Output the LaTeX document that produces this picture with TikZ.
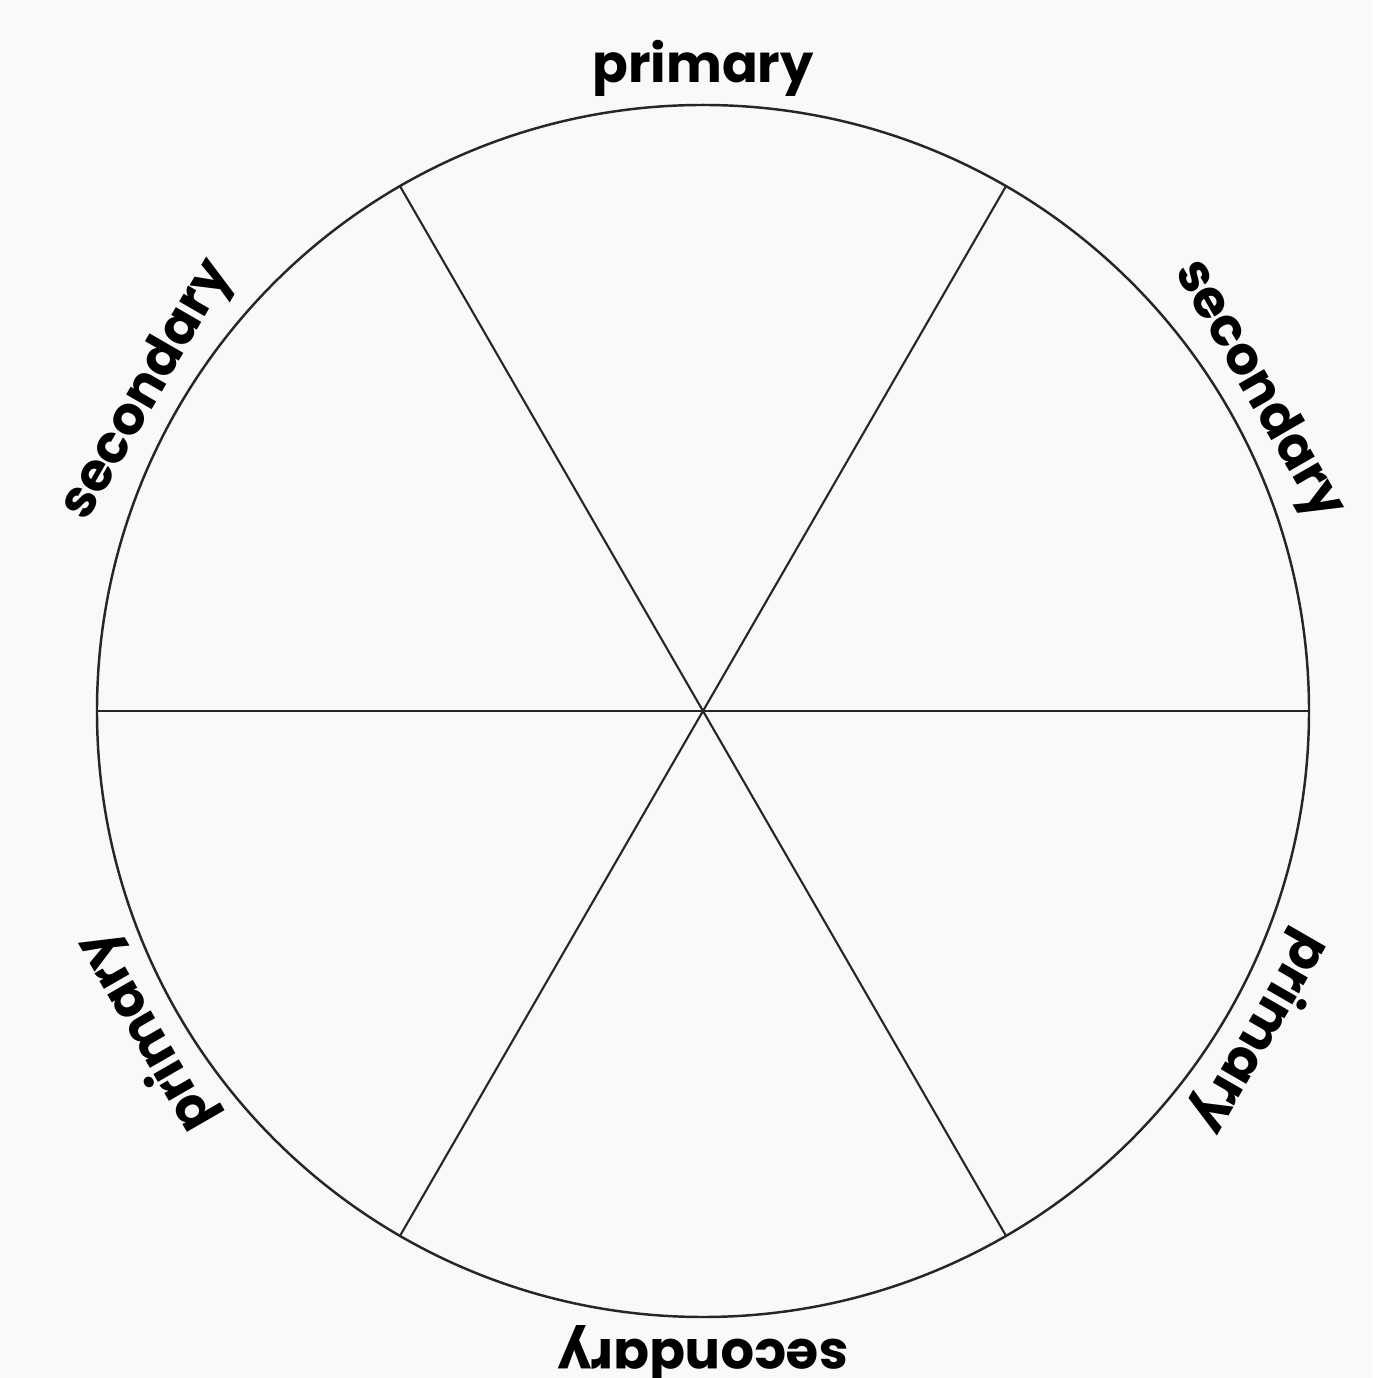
\documentclass[tikz,border=0pt]{standalone}
\usepackage{fontspec}
\setmainfont{Poppins}
\usepackage{tikz}
\usetikzlibrary{positioning,calc}

\definecolor{paper}{HTML}{F9F9F9}

\begin{document}
\begin{tikzpicture}[
    font=\fontsize{15}{17}\selectfont\bfseries,
    wheel/.style={
        draw=black!85,
        circle,
        line width=0.7pt,
        inner sep=0pt,
        outer sep=0pt,
        minimum size=12.12cm
    },
    spoke/.style={draw=black!85, line width=0.6pt},
    lbl/.style={anchor=base, inner sep=0pt}
]

% page and background
\fill[paper] (-7.03,-6.67) rectangle (6.69,7.11);
\useasboundingbox (-7.03,-6.67) rectangle (6.69,7.11);

% the wheel
\coordinate (c) at (0,0);
\node[wheel] (rim) at (c) {};

\draw[spoke] (c) -- (rim.0);
\draw[spoke] (c) -- (rim.60);
\draw[spoke] (c) -- (rim.120);
\draw[spoke] (c) -- (rim.180);
\draw[spoke] (c) -- (rim.240);
\draw[spoke] (c) -- (rim.300);

% labels round the rim
\node[lbl, rotate=0]    (pTop)    at (90:6.28)   {primary};
\node[lbl, rotate=-60]  (sRight)  at (30:6.28)   {secondary};
\node[lbl, rotate=-120] (pRight)  at (-30:6.28)  {primary};
\node[lbl, rotate=180]  (sBottom) at (-90:6.28)  {secondary};
\node[lbl, rotate=120]  (pLeft)   at (-150:6.28) {primary};
\node[lbl, rotate=60]   (sLeft)   at (150:6.28)  {secondary};

\end{tikzpicture}
\end{document}
